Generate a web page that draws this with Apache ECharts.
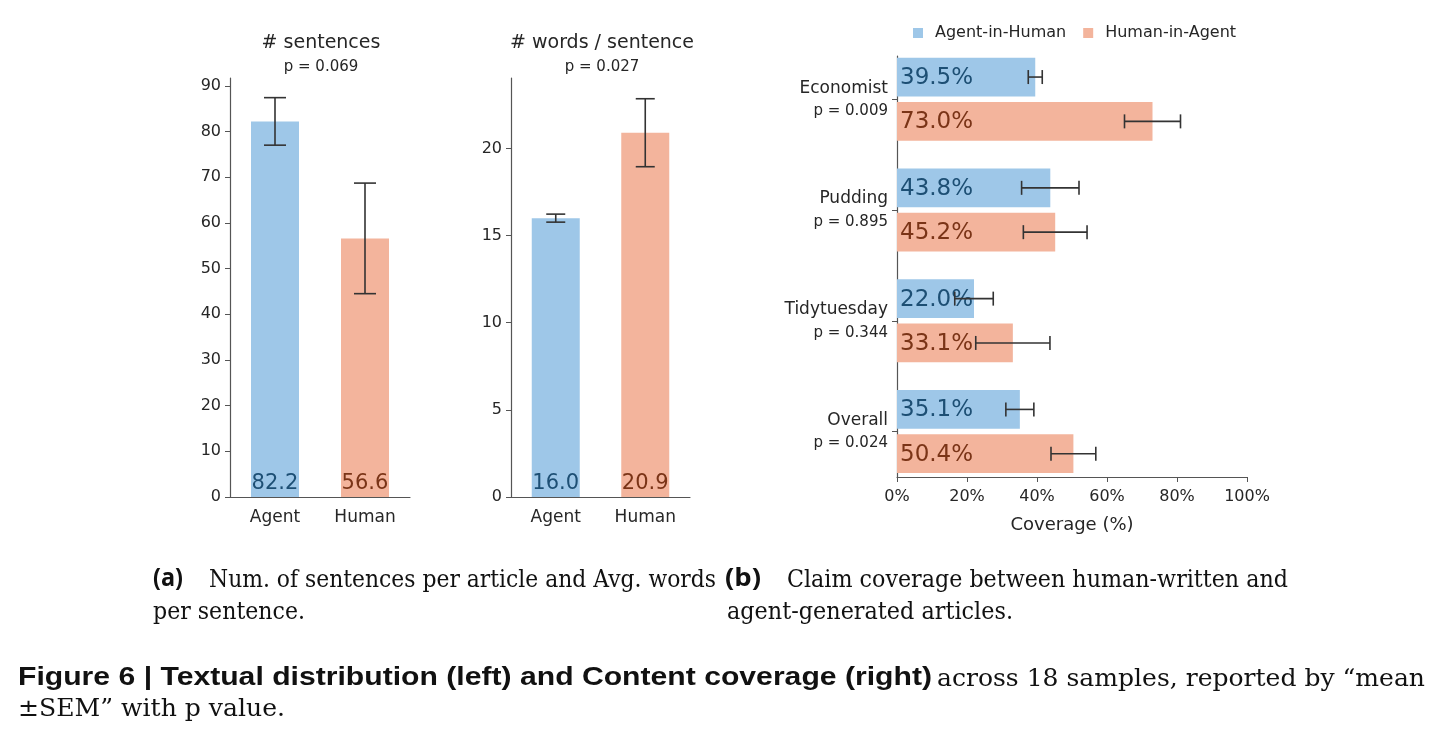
<!DOCTYPE html>
<html>
<head>
<meta charset="utf-8">
<script src="https://cdn.jsdelivr.net/npm/echarts@6/dist/echarts.min.js"></script>
<style>
html,body{margin:0;padding:0;background:#fff}
#main{width:1442px;height:746px}
</style>
</head>
<body>
<div id="main"></div>
<script>
// (a) sentences / words per sentence
var groups = ['Agent', 'Human'];
var sentMean = [82.2, 56.6];
var sentSem = [5.2, 12.1];
var wordMean = [16.0, 20.9];
var wordSem = [0.23, 1.95];
var sentTicks = [0, 10, 20, 30, 40, 50, 60, 70, 80, 90];
var wordTicks = [0, 5, 10, 15, 20];

// (b) claim coverage
var sources = ['Economist', 'Pudding', 'Tidytuesday', 'Overall'];
var pValues = ['0.009', '0.895', '0.344', '0.024'];
var agentInHuman = [39.5, 43.8, 22.0, 35.1];
var agentInHumanSem = [2.0, 8.2, 5.5, 4.0];
var humanInAgent = [73.0, 45.2, 33.1, 50.4];
var humanInAgentSem = [8.0, 9.1, 10.6, 6.4];

var FILL = ['#9ec7e8', '#f3b49c'];
var INK = ['#1d4f74', '#7a3417'];
var AXIS = '#555';
var TXT = '#262626';
var FONT = 'DejaVu Sans';

var chart = echarts.init(document.getElementById('main'));

function barData(vals) {
  return vals.map(function (v, i) {
    return { value: v, itemStyle: { color: FILL[i] }, label: { color: INK[i] } };
  });
}
function errData(mean, sem) {
  return mean.map(function (m, i) { return [i, m - sem[i], m + sem[i]]; });
}
// vertical error bar with caps
function vErr(capHalf) {
  return function (params, api) {
    var c = api.value(0);
    var a = api.coord([c, api.value(1)]), b = api.coord([c, api.value(2)]);
    var st = { stroke: '#333', lineWidth: 1.6 };
    return { type: 'group', children: [
      { type: 'line', shape: { x1: a[0], y1: a[1], x2: b[0], y2: b[1] }, style: st },
      { type: 'line', shape: { x1: a[0] - capHalf, y1: a[1], x2: a[0] + capHalf, y2: a[1] }, style: st },
      { type: 'line', shape: { x1: b[0] - capHalf, y1: b[1], x2: b[0] + capHalf, y2: b[1] }, style: st }
    ] };
  };
}
// horizontal bar (custom, so it can sit on a value y axis)
function hBar(offset, k) {
  return function (params, api) {
    var v = api.value(0), cat = api.value(1) + offset;
    var p0 = api.coord([0, cat]), p1 = api.coord([v, cat]);
    var h = api.size([0, 0.35])[1];
    return { type: 'group', children: [
      { type: 'rect', shape: { x: p0[0], y: p0[1] - h / 2, width: p1[0] - p0[0], height: h }, style: { fill: FILL[k] } },
      { type: 'text', x: p0[0] + 3, y: p0[1] + 1, style: { text: v.toFixed(1) + '%', fill: INK[k], font: '23px "DejaVu Sans"', verticalAlign: 'middle' } }
    ] };
  };
}
function hErr(offset) {
  return function (params, api) {
    var cat = api.value(1) + offset;
    var a = api.coord([api.value(0) - api.value(2), cat]), b = api.coord([api.value(0) + api.value(2), cat]);
    var st = { stroke: '#333', lineWidth: 1.6 };
    return { type: 'group', children: [
      { type: 'line', shape: { x1: a[0], y1: a[1], x2: b[0], y2: b[1] }, style: st },
      { type: 'line', shape: { x1: a[0], y1: a[1] - 7, x2: a[0], y2: a[1] + 7 }, style: st },
      { type: 'line', shape: { x1: b[0], y1: b[1] - 7, x2: b[0], y2: b[1] + 7 }, style: st }
    ] };
  };
}
function hData(vals, sem) {
  return vals.map(function (v, i) { return [v, i, sem[i]]; });
}

function catAxis(gi) {
  return {
    gridIndex: gi, type: 'category', data: groups,
    axisLine: { lineStyle: { color: AXIS, width: 1.2 } },
    axisTick: { alignWithLabel: true, length: 5, lineStyle: { color: AXIS } },
    axisLabel: { fontSize: 17, color: TXT, fontFamily: FONT, margin: 12 }
  };
}
function valAxis(gi, max, ticks) {
  return {
    gridIndex: gi, type: 'value', min: 0, max: max,
    splitLine: { show: false },
    axisLine: { show: true, lineStyle: { color: AXIS, width: 1.2 } },
    axisTick: { show: true, length: 5, customValues: ticks, lineStyle: { color: AXIS } },
    axisLabel: { customValues: ticks, fontSize: 16, color: TXT, fontFamily: FONT, margin: 9 }
  };
}

// caption text fitted to the width it takes in the figure
var measureCtx = document.createElement('canvas').getContext('2d');
function fitText(str, font, x, y, width) {
  measureCtx.font = font;
  var w = measureCtx.measureText(str).width;
  return { type: 'text', x: x, y: y, scaleX: width / w,
    style: { text: str, font: font, fill: '#111', verticalAlign: 'middle' } };
}
var SERIF = '25px "DejaVu Serif"';
var LABB = 'bold 25px "Open Sans"';
var SANSB = 'bold 26px "Liberation Sans"';

var option = {
  animation: false,
  backgroundColor: '#fff',
  textStyle: { fontFamily: FONT },
  title: [
    { text: '# sentences', subtext: 'p = 0.069', left: 316, top: 29, textAlign: 'center', itemGap: 7,
      textStyle: { fontSize: 19, fontWeight: 'normal', color: TXT, fontFamily: FONT },
      subtextStyle: { fontSize: 15, color: TXT, fontFamily: FONT } },
    { text: '# words / sentence', subtext: 'p = 0.027', left: 597, top: 29, textAlign: 'center', itemGap: 7,
      textStyle: { fontSize: 19, fontWeight: 'normal', color: TXT, fontFamily: FONT },
      subtextStyle: { fontSize: 15, color: TXT, fontFamily: FONT } }
  ],
  legend: {
    left: 908, top: 20, icon: 'rect', itemWidth: 10, itemHeight: 10, itemGap: 17,
    data: ['Agent-in-Human', 'Human-in-Agent'],
    textStyle: { fontSize: 16, color: TXT, fontFamily: FONT, padding: [0, 0, 0, 7] }
  },
  grid: [
    { left: 230, top: 78, width: 180, height: 419 },
    { left: 511, top: 78, width: 179, height: 419 },
    { left: 897, top: 56, width: 350, height: 421 }
  ],
  xAxis: [
    catAxis(0),
    catAxis(1),
    {
      gridIndex: 2, type: 'value', min: 0, max: 100, interval: 20,
      splitLine: { show: false },
      axisLine: { onZero: false, lineStyle: { color: AXIS, width: 1.2 } },
      axisTick: { show: true, length: 5, lineStyle: { color: AXIS } },
      axisLabel: { formatter: '{value}%', fontSize: 16, color: TXT, fontFamily: FONT, margin: 12 },
      name: 'Coverage (%)', nameLocation: 'middle', nameGap: 39,
      nameTextStyle: { fontSize: 18, color: TXT, fontFamily: FONT }
    }
  ],
  yAxis: [
    valAxis(0, 91.7, sentTicks),
    valAxis(1, 24.04, wordTicks),
    {
      gridIndex: 2, type: 'value', min: -0.39, max: 3.41, inverse: true,
      splitLine: { show: false },
      axisLine: { show: true, onZero: false, lineStyle: { color: AXIS, width: 1.2 } },
      axisTick: { show: true, length: 5, customValues: [0, 1, 2, 3], lineStyle: { color: AXIS } },
      axisLabel: {
        customValues: [0, 1, 2, 3], margin: 9,
        formatter: function (v) { return '{n|' + sources[v] + '}\n{p|p = ' + pValues[v] + '}'; },
        rich: {
          n: { fontSize: 17, color: TXT, fontFamily: FONT, align: 'right', lineHeight: 24, padding: [2, 0, 0, 0] },
          p: { fontSize: 15, color: TXT, fontFamily: FONT, align: 'right', lineHeight: 24 }
        }
      }
    }
  ],
  series: [
    { type: 'bar', xAxisIndex: 0, yAxisIndex: 0, barWidth: 48, data: barData(sentMean),
      label: { show: true, position: 'insideBottom', distance: 3, fontSize: 21, fontFamily: FONT,
        formatter: function (p) { return p.value.toFixed(1); } } },
    { type: 'custom', xAxisIndex: 0, yAxisIndex: 0, renderItem: vErr(11), data: errData(sentMean, sentSem), z: 5 },
    { type: 'bar', xAxisIndex: 1, yAxisIndex: 1, barWidth: 48, data: barData(wordMean),
      label: { show: true, position: 'insideBottom', distance: 3, fontSize: 21, fontFamily: FONT,
        formatter: function (p) { return p.value.toFixed(1); } } },
    { type: 'custom', xAxisIndex: 1, yAxisIndex: 1, renderItem: vErr(9.5), data: errData(wordMean, wordSem), z: 5 },

    { name: 'Agent-in-Human', type: 'custom', xAxisIndex: 2, yAxisIndex: 2, itemStyle: { color: FILL[0] },
      renderItem: hBar(-0.2, 0), data: hData(agentInHuman, agentInHumanSem), encode: { x: 0, y: 1 } },
    { name: 'Human-in-Agent', type: 'custom', xAxisIndex: 2, yAxisIndex: 2, itemStyle: { color: FILL[1] },
      renderItem: hBar(0.2, 1), data: hData(humanInAgent, humanInAgentSem), encode: { x: 0, y: 1 } },
    { type: 'custom', xAxisIndex: 2, yAxisIndex: 2, renderItem: hErr(-0.2), z: 5,
      data: hData(agentInHuman, agentInHumanSem), encode: { x: 0, y: 1 } },
    { type: 'custom', xAxisIndex: 2, yAxisIndex: 2, renderItem: hErr(0.2), z: 5,
      data: hData(humanInAgent, humanInAgentSem), encode: { x: 0, y: 1 } }
  ],
  graphic: [
    fitText('(a)', LABB, 153, 579, 30),
    fitText('Num. of sentences per article and Avg. words', SERIF, 209, 580, 507),
    fitText('per sentence.', SERIF, 153, 612, 152),
    fitText('(b)', LABB, 725, 579, 36),
    fitText('Claim coverage between human-written and', SERIF, 787, 580, 501),
    fitText('agent-generated articles.', SERIF, 727, 612, 286),
    fitText('Figure 6 | Textual distribution (left) and Content coverage (right)', SANSB, 18, 678, 914),
    fitText('across 18 samples, reported by \u201cmean', SERIF, 937, 679, 488),
    fitText('\u00b1SEM\u201d with p value.', SERIF, 18, 709, 267)
  ]
};
chart.setOption(option);
</script>
</body>
</html>
